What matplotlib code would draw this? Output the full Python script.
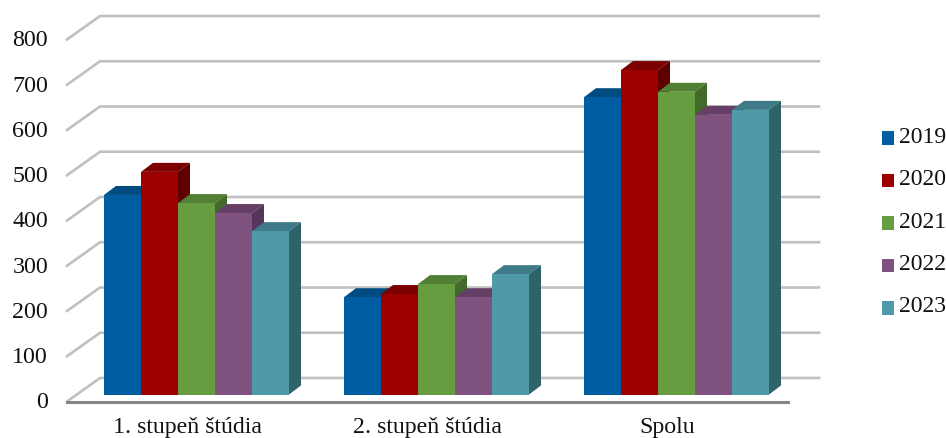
"""Pseudo-3D clustered bar chart, students by study level and year."""
import matplotlib
matplotlib.use("Agg")
import matplotlib.pyplot as plt
from matplotlib.patches import Patch, Polygon

plt.rcParams["font.family"] = ["Liberation Serif", "DejaVu Serif"]

categories = ["1. stupeň štúdia", "2. stupeň štúdia", "Spolu"]
years = ["2019", "2020", "2021", "2022", "2023"]
values_2019 = [441, 215, 657]
values_2020 = [492, 222, 717]
values_2021 = [423, 244, 669]
values_2022 = [401, 215, 618]
values_2023 = [361, 266, 629]
y_ticks = [0, 100, 200, 300, 400, 500, 600, 700, 800]

series = [values_2019, values_2020, values_2021, values_2022, values_2023]
front_colors = ["#005da2", "#9c0000", "#669d41", "#7f5280", "#4e9aa9"]
top_colors = ["#004c80", "#7d0000", "#517f34", "#663f66", "#3e7a87"]
side_colors = ["#003e6c", "#5f0000", "#436a2a", "#55365a", "#2f636c"]

W, H = 946, 439
PX_PER_VALUE = 0.4525
BASE_PX = 394.5
GROUP_PX = 240
FIRST_GROUP_PX = 196.5
BAR_PX = 37

# axes fill the figure; x = group index, y = chart value
fig = plt.figure(figsize=(W / 100, H / 100), dpi=100)
ax = fig.add_axes([0, 0, 1, 1])
ax.set_xlim(-FIRST_GROUP_PX / GROUP_PX, (W - FIRST_GROUP_PX) / GROUP_PX)
ax.set_ylim((BASE_PX + 1 - H) / PX_PER_VALUE, (BASE_PX + 1) / PX_PER_VALUE)
ax.axis("off")

bar_w = BAR_PX / GROUP_PX
# bar depth
dx = 12 / GROUP_PX
dy = 9 / PX_PER_VALUE
# wall and floor offsets relative to the bar front plane
wall_x0 = (100 - FIRST_GROUP_PX) / GROUP_PX
wall_x1 = (819 - FIRST_GROUP_PX) / GROUP_PX
wall_dy = (BASE_PX - 378) / PX_PER_VALUE
front_x0 = (67 - FIRST_GROUP_PX) / GROUP_PX
front_x1 = (788 - FIRST_GROUP_PX) / GROUP_PX
front_dy = (BASE_PX - 401.5) / PX_PER_VALUE
label_y = (BASE_PX + 1 - 433.5) / PX_PER_VALUE

for t in y_ticks:
    ax.plot([front_x0, wall_x0, wall_x1], [t + front_dy, t + wall_dy, t + wall_dy],
            color="#c0c0c0", lw=1.9, solid_joinstyle="miter", zorder=1)
    ax.text(-148.5 / GROUP_PX, t + front_dy - 1, str(t), ha="right", va="center",
            fontsize=17.3, color="#111111")
ax.plot([front_x0, front_x1], [front_dy, front_dy], color="#868686", lw=2.2, zorder=1.5)

for g in range(len(categories)):
    for i, vals in enumerate(series):
        v = vals[g]
        x0 = g + (i - 2.5) * bar_w
        x1 = x0 + bar_w
        z = 2 + g + i * 0.1
        ax.add_patch(Polygon([(x0, v), (x0 + dx, v + dy), (x1 + dx, v + dy), (x1, v)],
                             closed=True, fc=top_colors[i], ec="none", zorder=z))
        ax.add_patch(Polygon([(x1, 0), (x1 + dx, dy), (x1 + dx, v + dy), (x1, v)],
                             closed=True, fc=side_colors[i], ec="none", zorder=z))
        ax.bar(x0, v, width=bar_w, align="edge", color=front_colors[i], zorder=z + 0.01)
    ax.text(g - 9 / GROUP_PX, label_y, categories[g], ha="center", va="baseline",
            fontsize=17.2, color="#111111")

handles = [Patch(fc=c, ec="none", label=y) for c, y in zip(front_colors, years)]
leg = ax.legend(handles=handles, loc="center left", bbox_to_anchor=(882 / W, 1 - 222 / H),
                frameon=False, fontsize=17, labelspacing=0.91, handlelength=0.52,
                handleheight=0.52, handletextpad=0.2, borderpad=0, borderaxespad=0,
                labelcolor="#111111")
# squares sit a little below the text centre
for p in leg.get_patches():
    p.set_y(p.get_y() - 3.5)

fig.savefig("out.png", dpi=100)
plt.close(fig)
print("Saved out.png")
